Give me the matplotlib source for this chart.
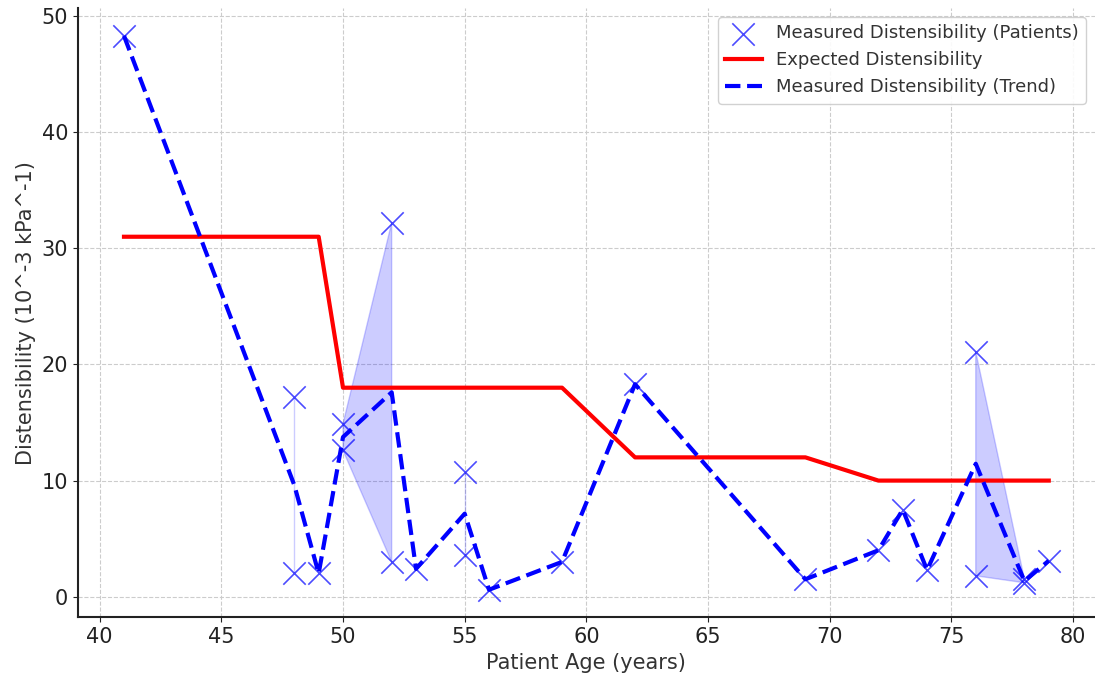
import numpy as np
import pandas as pd
import matplotlib
matplotlib.use("Agg")
import matplotlib.pyplot as plt

# patient measurements (age, distensibility)
ages = [41, 48, 48, 49, 50, 50, 52, 52, 53, 55, 55, 56, 59, 62, 69, 72, 73, 74, 76, 76, 78, 78, 79]
distens = [48.3, 17.2, 2.0, 2.0, 14.9, 12.6, 32.2, 3.0, 2.4, 10.7, 3.6, 0.6, 3.0, 18.3,
           1.5, 4.0, 7.5, 2.3, 21.1, 1.8, 1.2, 1.5, 3.1]

# expected distensibility for each unique age
expected_ages = [41, 48, 49, 50, 52, 53, 55, 56, 59, 62, 69, 72, 73, 74, 76, 78, 79]
expected_vals = [31, 31, 31, 18, 18, 18, 18, 18, 18, 12, 12, 10, 10, 10, 10, 10, 10]

df = pd.DataFrame({"age": ages, "d": distens})
g = df.groupby("age")["d"]
trend = g.mean()
lo = g.min()
hi = g.max()
multi = (g.count() > 1).values

fig, ax = plt.subplots(figsize=(10.95, 6.8), dpi=100)

ax.scatter(ages, distens, marker="x", s=260, color="blue", alpha=0.7, linewidths=1.2,
           label="Measured Distensibility (Patients)", zorder=3)
ax.plot(expected_ages, expected_vals, color="red", linewidth=3,
        label="Expected Distensibility", zorder=2)
ax.plot(trend.index, trend.values, color="blue", linestyle="--", linewidth=3,
        label="Measured Distensibility (Trend)", zorder=3)
ax.fill_between(trend.index, lo.values, hi.values, where=multi, color="blue",
                alpha=0.2, zorder=1)

ax.set_xlabel("Patient Age (years)", fontsize=15, color="#333333")
ax.set_ylabel("Distensibility (10^-3 kPa^-1)", fontsize=15, color="#333333")
ax.tick_params(labelsize=15, colors="#222222")
ax.grid(True, linestyle="--", color="#cccccc", linewidth=0.8)
ax.set_axisbelow(True)
for side in ["top", "right"]:
    ax.spines[side].set_visible(False)
ax.spines["left"].set_linewidth(1.5)
ax.spines["bottom"].set_linewidth(1.5)
ax.spines["left"].set_color("#222222")
ax.spines["bottom"].set_color("#222222")

leg = ax.legend(loc="upper right", fontsize=13, framealpha=0.9)
for t in leg.get_texts():
    t.set_color("#333333")

fig.subplots_adjust(left=0.071, right=1.0, top=0.988, bottom=0.092)
fig.savefig("out.png", dpi=100)
